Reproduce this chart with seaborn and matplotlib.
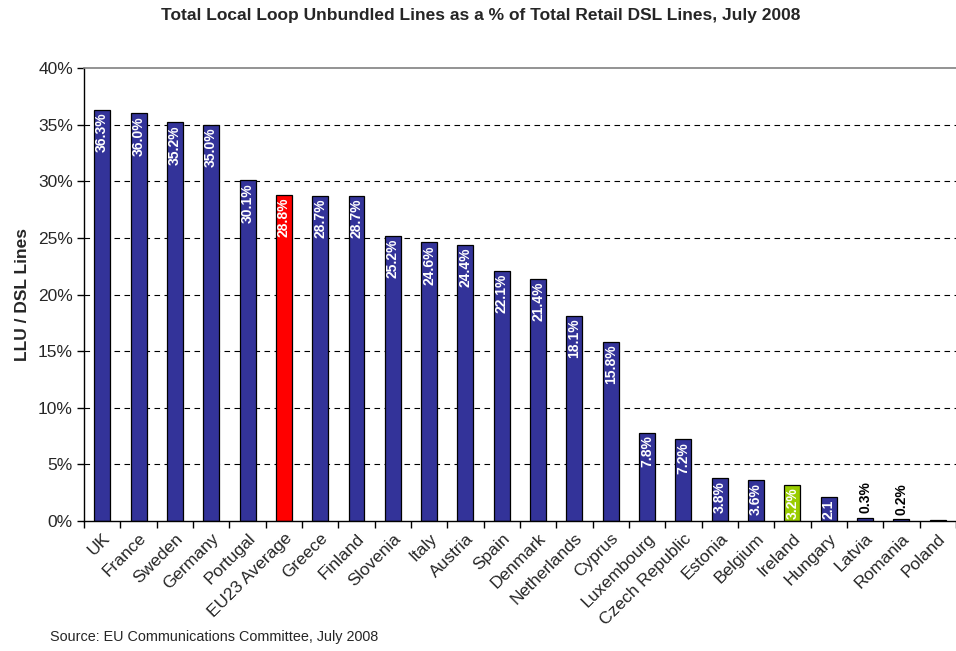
import matplotlib
matplotlib.use("Agg")
import matplotlib.pyplot as plt
import seaborn as sns
import pandas as pd
import numpy as np

countries = ["UK", "France", "Sweden", "Germany", "Portugal", "EU23 Average", "Greece",
             "Finland", "Slovenia", "Italy", "Austria", "Spain", "Denmark", "Netherlands",
             "Cyprus", "Luxembourg", "Czech Republic", "Estonia", "Belgium", "Ireland",
             "Hungary", "Latvia", "Romania", "Poland"]
values = [36.3, 36.0, 35.2, 35.0, 30.1, 28.8, 28.7, 28.7, 25.2, 24.6, 24.4, 22.1, 21.4,
          18.1, 15.8, 7.8, 7.2, 3.8, 3.6, 3.2, 2.1, 0.3, 0.2, 0.05]
value_labels = ["36.3%", "36.0%", "35.2%", "35.0%", "30.1%", "28.8%", "28.7%", "28.7%",
                "25.2%", "24.6%", "24.4%", "22.1%", "21.4%", "18.1%", "15.8%", "7.8%",
                "7.2%", "3.8%", "3.6%", "3.2%", "2.1", "0.3%", "0.2%", ""]
y_ticks = [0, 5, 10, 15, 20, 25, 30, 35, 40]
y_tick_labels = ["0%", "5%", "10%", "15%", "20%", "25%", "30%", "35%", "40%"]

BLUE = "#333399"
RED = "#FF0000"
GREEN = "#99CC00"
colors = [BLUE] * len(countries)
colors[countries.index("EU23 Average")] = RED
colors[countries.index("Ireland")] = GREEN

sns.set_style("white")
plt.rcParams["font.family"] = ["Liberation Sans", "DejaVu Sans"]

df = pd.DataFrame({"country": countries, "value": values})

fig = plt.figure(figsize=(9.56, 6.51), dpi=100)
ax = fig.add_axes([0.0879, 0.1997, 0.912, 0.6958])

sns.barplot(data=df, x="country", y="value", hue="country", palette=colors,
            legend=False, width=0.44, edgecolor="black", linewidth=0.9, ax=ax,
            saturation=1)

ax.set_xlim(-0.5, len(countries) - 0.5)
ax.set_ylim(0, 40)

for yv in y_ticks[1:-1]:
    ax.axhline(yv, color="black", linestyle=(0, (5, 4)), linewidth=0.8, zorder=0)

ax.set_yticks(y_ticks)
ax.set_yticklabels(y_tick_labels, fontsize=12.5)

# major ticks at category boundaries, labels at centers via minor ticks
ax.set_xticks(np.arange(-0.5, len(countries), 1.0))
ax.set_xticklabels([])
ax.set_xticks(np.arange(len(countries)), minor=True)
ax.set_xticklabels(countries, minor=True, rotation=45, ha="right",
                   rotation_mode="anchor", fontsize=12.5)
ax.tick_params(axis="x", which="minor", length=0, pad=7)
ax.tick_params(axis="x", which="major", length=5, width=1, direction="out", color="black", bottom=True)
ax.tick_params(axis="y", length=5, width=1, direction="out", color="black", left=True, pad=3)

for sp in ["left", "bottom"]:
    ax.spines[sp].set_color("black")
    ax.spines[sp].set_linewidth(1)
ax.spines["top"].set_color("#808080")
ax.spines["top"].set_linewidth(1.2)
ax.spines["right"].set_visible(False)

for i, (v, lab) in enumerate(zip(values, value_labels)):
    if not lab:
        continue
    if v < 1.5:
        ax.annotate(lab, (i, v), xytext=(0, 3), textcoords="offset points",
                    rotation=90, ha="center", va="bottom", color="black",
                    fontsize=10, fontweight="bold")
    else:
        ax.annotate(lab, (i, v), xytext=(0, -2), textcoords="offset points",
                    rotation=90, ha="center", va="top", color="white",
                    fontsize=10, fontweight="bold")

ax.set_xlabel("")
ax.set_ylabel("LLU / DSL Lines", fontsize=12.5, fontweight="bold", labelpad=6)

fig.suptitle("Total Local Loop Unbundled Lines as a % of Total Retail DSL Lines, July 2008",
             fontsize=12.5, fontweight="bold", x=0.503, y=0.988)
fig.text(50 / 956, 1 - 637 / 651, "Source: EU Communications Committee, July 2008",
         fontsize=10.4, va="center", ha="left")

fig.savefig("out.png", dpi=100)
